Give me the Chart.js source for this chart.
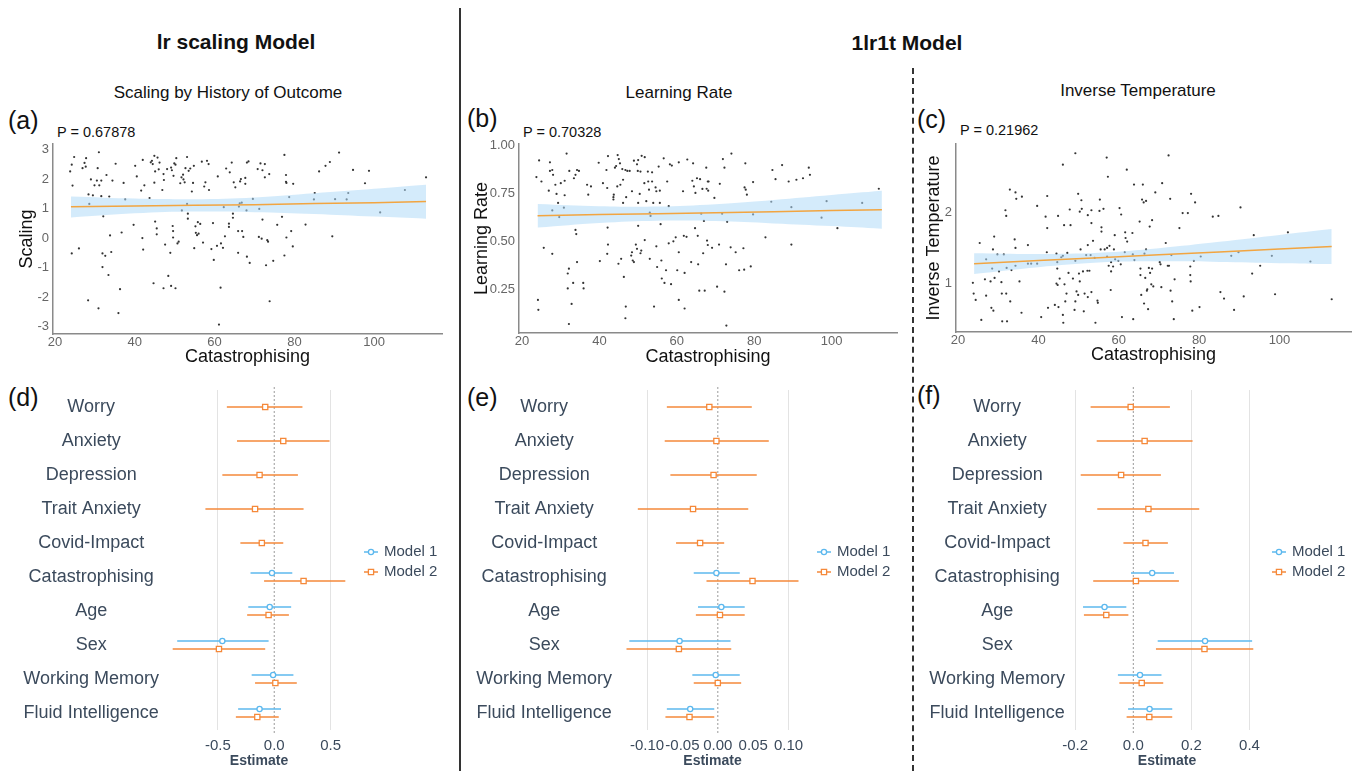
<!DOCTYPE html>
<html>
<head>
<meta charset="utf-8">
<script src="https://cdn.jsdelivr.net/npm/chart.js@4.4.1/dist/chart.umd.min.js"></script>
<style>
  body { margin: 0; background: #fff; font-family: "Liberation Sans", Arial, sans-serif; }
  #page { position: relative; width: 1357px; height: 771px; overflow: hidden; }
  canvas { position: absolute; }
  .t { position: absolute; white-space: nowrap; color: #111; line-height: 1; }
  .c { transform: translate(-50%, -50%); }
  .l { transform: translateY(-50%); }
</style>
</head>
<body>
<div id="page">
  <div style="position:absolute;left:459px;top:8px;width:2px;height:763px;background:#333"></div>
  <div style="position:absolute;left:912px;top:68px;height:703px;border-left:2px dashed #333"></div>

  <div class="t c" style="left:236px;top:41px;font-size:21px;font-weight:bold">lr scaling Model</div>
  <div class="t c" style="left:907px;top:42px;font-size:21px;font-weight:bold">1lr1t Model</div>

  <div class="t c" style="left:228px;top:92px;font-size:17px">Scaling by History of Outcome</div>
  <div class="t c" style="left:679px;top:92px;font-size:17px">Learning Rate</div>
  <div class="t c" style="left:1138px;top:90px;font-size:17px">Inverse Temperature</div>

  <div class="t l" style="left:8px;top:120px;font-size:25px">(a)</div>
  <div class="t l" style="left:467px;top:118px;font-size:25px">(b)</div>
  <div class="t l" style="left:917px;top:119px;font-size:25px">(c)</div>
  <div class="t l" style="left:8px;top:397px;font-size:25px">(d)</div>
  <div class="t l" style="left:467px;top:397px;font-size:25px">(e)</div>
  <div class="t l" style="left:917px;top:395px;font-size:25px">(f)</div>

  <div class="t l" style="left:57px;top:132px;font-size:14.5px">P = 0.67878</div>
  <div class="t l" style="left:523px;top:132px;font-size:14.5px">P = 0.70328</div>
  <div class="t l" style="left:960px;top:130px;font-size:14.5px">P = 0.21962</div>

  <canvas id="ca" width="452" height="235" style="left:0;top:140px"></canvas>
  <canvas id="cb" width="443" height="235" style="left:462px;top:140px"></canvas>
  <canvas id="cc" width="441" height="235" style="left:916px;top:140px"></canvas>
  <canvas id="cd" width="455" height="388" style="left:0;top:383px"></canvas>
  <canvas id="ce" width="443" height="388" style="left:462px;top:383px"></canvas>
  <canvas id="cf" width="441" height="388" style="left:916px;top:383px"></canvas>
</div>

<script>
// ---- data : scatter panels (catastrophising, parameter) ----
const scalingPoints = [
  [23.8,2.27],[24.2,2.50],[24.4,1.79],[24.8,2.76],[24.2,-0.51],[26.0,-0.34],[26.9,2.38],[27.4,2.56],
  [27.8,2.72],[27.7,2.43],[28.4,1.49],[28.6,1.17],[28.3,-2.10],[29.0,2.00],[29.5,1.46],[29.9,1.80],
  [30.5,1.96],[30.7,2.38],[31.0,2.92],[31.1,1.80],[31.6,1.96],[31.6,1.43],[31.9,-0.51],[32.1,0.75],
  [31.9,-0.97],[30.9,-2.37],[32.6,-0.59],[32.9,2.15],[33.4,-1.24],[33.6,1.42],[33.8,0.10],[34.1,-0.46],
  [34.4,1.96],[35.2,2.53],[36.3,-1.72],[35.9,-2.53],[36.7,0.20],[37.2,1.88],[37.6,1.32],[39.7,0.46],
  [40.1,2.46],[40.5,2.10],[41.6,1.62],[42.0,2.66],[41.9,0.01],[42.1,-0.38],[42.4,1.80],[43.7,1.37],
  [44.0,2.58],[44.3,2.63],[44.5,2.52],[44.9,2.80],[45.1,2.27],[44.9,1.89],[45.1,0.57],[45.5,0.34],
  [45.5,0.14],[45.7,2.74],[46.0,2.34],[46.2,2.57],[46.9,1.64],[47.2,2.18],[47.3,1.98],[44.7,-1.52],
  [47.2,-1.69],[47.6,-0.21],[48.1,2.35],[48.4,-1.27],[48.9,-0.49],[49.1,2.40],[49.3,2.31],[49.5,0.42],
  [49.6,0.25],[49.6,0.03],[49.9,2.54],[50.2,2.50],[49.7,2.12],[49.1,-1.61],[50.2,-1.69],[50.4,2.72],
  [50.7,-0.17],[51.0,-0.11],[51.4,1.87],[51.7,2.07],[51.8,0.95],[52.1,2.16],[52.2,2.00],[52.5,1.90],
  [52.7,2.38],[53.1,2.76],[53.1,1.17],[53.3,0.84],[53.3,0.67],[53.5,2.29],[53.9,2.37],[54.3,1.59],
  [54.6,1.88],[54.8,2.46],[54.9,-0.33],[55.2,0.41],[55.3,0.19],[55.6,0.11],[55.8,0.55],[56.0,0.16],
  [56.4,0.49],[56.8,2.60],[57.1,-0.14],[57.4,1.76],[57.7,1.90],[58.1,2.63],[58.5,2.52],[58.6,1.64],
  [59.2,-0.36],[59.6,0.52],[59.8,-0.73],[60.6,-0.25],[60.8,2.10],[61.1,-2.92],[61.5,-1.67],[61.6,-0.17],
  [62.1,-0.32],[62.3,1.06],[62.6,0.07],[62.9,2.37],[63.6,0.50],[63.6,0.39],[63.8,2.24],[64.3,2.57],
  [64.6,0.70],[64.6,0.84],[64.8,1.90],[65.2,1.73],[65.9,0.25],[65.9,-0.49],[66.1,1.08],[66.3,1.19],
  [66.4,1.93],[66.6,2.01],[66.8,1.21],[66.9,0.25],[67.2,0.05],[67.7,2.05],[67.7,1.85],[68.0,0.95],
  [68.1,2.57],[68.5,2.61],[68.1,-0.62],[68.8,-0.83],[69.6,1.34],[70.8,2.35],[71.2,1.00],[71.1,0.05],
  [71.5,2.54],[72.0,2.31],[72.0,0.64],[71.8,-0.01],[72.6,2.52],[72.6,2.07],[72.9,-0.91],[73.2,-0.06],
  [73.4,-0.11],[73.7,2.18],[73.8,-2.13],[74.7,-0.76],[75.7,0.46],[76.9,0.73],[77.5,2.83],[77.5,-0.58],
  [77.9,2.15],[77.9,1.92],[78.0,1.88],[78.0,0.03],[78.7,1.40],[79.2,0.25],[79.7,1.85],[79.6,-0.27],
  [82.8,0.47],[84.9,1.32],[85.1,1.54],[86.2,2.27],[87.8,2.46],[88.9,2.59],[89.5,0.07],[90.2,1.33],
  [91.2,2.91],[93.1,1.32],[93.5,1.54],[94.7,2.32],[97.7,1.87],[98.7,2.29],[101.5,0.88],[107.7,1.64],
  [113.0,2.07]
];
const learningPoints = [
  [23.7,0.837],[24.4,0.924],[25.0,0.814],[24.1,0.195],[24.2,0.143],[25.6,0.467],[26.9,0.766],[27.2,0.914],
  [27.2,0.869],[27.8,0.874],[28.0,0.849],[27.8,0.663],[27.8,0.436],[28.6,0.797],[28.9,0.749],[29.3,0.702],
  [29.6,0.628],[30.0,0.805],[30.8,0.677],[31.0,0.742],[31.0,0.818],[31.5,0.960],[31.8,0.333],[31.8,0.255],
  [32.1,0.358],[32.1,0.069],[32.2,0.869],[32.8,0.174],[33.2,0.284],[33.4,0.831],[33.8,0.849],[33.8,0.561],
  [34.0,0.539],[34.2,0.874],[34.7,0.869],[34.2,0.393],[35.8,0.284],[35.9,0.255],[36.8,0.797],[37.1,0.745],
  [37.8,0.788],[39.8,0.912],[40.1,0.398],[40.9,0.805],[41.8,0.874],[42.2,0.947],[42.0,0.780],[42.1,0.573],
  [42.2,0.484],[42.0,0.436],[43.6,0.732],[43.6,0.720],[43.7,0.745],[44.0,0.886],[44.3,0.895],[44.7,0.952],
  [44.6,0.788],[45.0,0.931],[44.9,0.384],[45.3,0.909],[45.4,0.797],[45.6,0.410],[45.9,0.879],[46.1,0.823],
  [46.1,0.702],[46.3,0.315],[46.7,0.874],[46.8,0.160],[46.7,0.099],[46.9,0.732],[47.2,0.869],[47.8,0.869],
  [48.2,0.427],[48.4,0.444],[48.4,0.763],[48.6,0.401],[48.9,0.393],[48.9,0.923],[49.4,0.484],[49.7,0.462],
  [49.7,0.904],[49.9,0.869],[50.0,0.926],[50.0,0.702],[50.0,0.582],[50.4,0.749],[50.6,0.866],[50.6,0.439],
  [50.9,0.948],[50.8,0.453],[51.7,0.941],[51.7,0.508],[51.6,0.805],[52.1,0.711],[52.5,0.866],[52.6,0.814],
  [52.8,0.771],[53.0,0.651],[53.2,0.634],[53.0,0.410],[53.6,0.862],[53.6,0.814],[53.9,0.702],[54.1,0.160],
  [54.5,0.783],[54.7,0.763],[54.7,0.475],[54.9,0.367],[55.3,0.892],[55.6,0.766],[55.6,0.702],[55.8,0.591],
  [56.0,0.401],[56.1,0.307],[56.6,0.935],[56.8,0.284],[57.2,0.350],[57.5,0.814],[57.9,0.685],[57.9,0.491],
  [58.2,0.904],[58.5,0.277],[58.7,0.897],[59.1,0.501],[59.7,0.522],[60.1,0.350],[60.5,0.914],[60.5,0.444],
  [60.5,0.195],[61.6,0.763],[61.8,0.530],[62.0,0.336],[62.0,0.150],[62.5,0.525],[62.7,0.929],[63.7,0.393],
  [64.0,0.818],[64.2,0.909],[64.4,0.788],[64.7,0.570],[64.8,0.754],[65.2,0.831],[65.4,0.530],[65.5,0.381],
  [65.8,0.243],[66.0,0.826],[66.3,0.646],[66.6,0.775],[66.8,0.439],[67.0,0.608],[67.2,0.243],[67.6,0.886],
  [67.7,0.776],[67.8,0.505],[68.0,0.482],[68.1,0.766],[68.0,0.814],[68.2,0.814],[69.1,0.467],[69.7,0.728],
  [70.4,0.264],[70.9,0.484],[71.1,0.802],[71.7,0.646],[71.9,0.931],[72.3,0.238],[72.3,0.886],[72.7,0.381],
  [72.8,0.061],[73.0,0.603],[73.9,0.470],[74.1,0.960],[75.2,0.444],[76.1,0.350],[77.2,0.465],[77.4,0.353],
  [77.5,0.783],[77.7,0.909],[77.8,0.771],[78.1,0.745],[79.1,0.370],[79.7,0.642],[79.7,0.811],[82.9,0.522],
  [84.4,0.708],[84.7,0.874],[85.5,0.826],[87.2,0.900],[88.9,0.814],[89.6,0.484],[89.6,0.680],[90.9,0.823],
  [92.6,0.831],[94.1,0.886],[94.4,0.849],[97.4,0.625],[98.7,0.711],[101.5,0.570],[107.9,0.702],[112.2,0.776]
];
const temperaturePoints = [
  [23.7,1.01],[23.9,0.86],[24.4,0.77],[25.4,1.57],[25.8,0.49],[26.7,1.06],[27.0,1.34],[27.0,0.83],
  [28.1,1.03],[28.5,1.21],[28.3,0.66],[28.7,1.48],[28.8,0.62],[29.0,1.66],[29.1,1.08],[29.8,1.41],
  [30.2,1.17],[30.8,1.02],[30.9,0.86],[31.0,0.47],[31.4,1.41],[31.8,2.03],[32.0,1.95],[32.0,0.86],
  [32.2,0.47],[32.1,1.22],[32.9,2.32],[33.0,0.75],[33.3,1.19],[34.1,1.62],[34.3,1.50],[34.3,1.25],
  [34.3,2.28],[34.5,2.19],[35.3,1.03],[35.8,0.59],[35.9,2.22],[37.4,1.54],[37.4,1.28],[38.2,1.28],
  [39.7,1.28],[39.7,2.09],[40.7,0.53],[41.8,1.94],[42.1,1.44],[42.2,2.23],[42.2,1.78],[42.4,0.66],
  [44.1,0.70],[44.5,1.42],[44.5,1.00],[44.7,1.30],[44.7,1.21],[44.8,0.98],[44.9,1.95],[45.0,0.67],
  [45.3,1.07],[45.7,1.37],[46.1,2.67],[46.1,1.39],[46.1,0.56],[46.2,0.45],[46.4,1.82],[46.5,0.99],
  [46.7,0.75],[47.0,0.86],[47.2,1.43],[47.5,1.15],[47.8,2.04],[48.0,1.82],[48.6,1.07],[49.0,0.63],
  [49.2,2.83],[49.2,1.32],[49.2,0.75],[49.5,0.89],[49.9,2.26],[49.9,0.84],[50.1,1.14],[50.3,2.01],
  [50.3,1.03],[50.5,1.48],[50.7,2.17],[50.8,2.05],[51.1,1.17],[51.3,0.61],[51.5,0.86],[51.9,1.40],
  [52.2,1.18],[52.3,1.96],[52.3,1.54],[52.3,0.81],[52.7,1.18],[53.0,1.40],[53.2,1.85],[53.2,2.03],
  [53.2,0.88],[53.6,1.60],[54.0,1.36],[54.2,0.45],[54.7,0.76],[54.8,0.73],[55.2,2.02],[55.3,2.18],
  [55.5,1.48],[55.7,1.79],[55.7,1.73],[56.2,2.05],[56.5,1.48],[57.0,2.77],[57.1,1.50],[57.1,1.38],
  [57.3,2.50],[57.5,1.25],[57.7,1.53],[58.0,0.91],[58.1,1.17],[58.1,1.30],[58.6,1.24],[58.8,1.48],
  [59.0,1.68],[59.1,1.34],[59.9,1.32],[60.2,2.06],[60.5,1.27],[60.6,1.97],[60.8,0.53],[61.5,1.44],
  [61.6,1.72],[61.7,1.64],[62.0,2.60],[62.1,1.59],[63.4,1.71],[63.5,1.41],[63.6,0.50],[63.8,2.39],
  [63.9,1.33],[65.2,1.87],[65.4,1.21],[65.4,1.12],[65.6,0.84],[65.8,2.18],[66.0,2.39],[66.2,2.14],
  [66.3,0.72],[66.4,1.42],[66.6,1.08],[66.8,2.16],[66.8,1.48],[67.0,0.90],[67.1,0.92],[67.3,0.64],
  [67.5,1.22],[67.7,1.80],[67.8,1.15],[68.1,0.99],[68.3,1.89],[68.3,1.21],[68.6,0.96],[69.1,2.28],
  [70.2,1.30],[70.4,1.27],[70.6,0.95],[70.8,2.41],[71.7,1.57],[72.2,1.25],[72.4,2.80],[72.5,1.25],
  [72.8,2.19],[72.9,0.90],[73.1,1.40],[73.3,0.75],[73.7,0.50],[73.9,1.06],[75.1,1.78],[75.9,1.99],
  [77.2,1.99],[77.8,1.24],[77.8,1.12],[77.9,1.03],[78.0,2.26],[78.3,0.62],[78.7,1.32],[79.0,2.14],
  [80.1,0.67],[80.4,1.38],[83.4,1.94],[84.8,1.95],[85.3,0.88],[86.2,0.79],[88.0,1.39],[88.7,0.63],
  [89.8,1.44],[90.3,2.07],[91.1,0.82],[93.2,1.14],[93.6,1.68],[95.2,1.25],[98.1,1.39],[98.9,0.85],
  [102.1,1.72],[107.7,1.31],[113.0,0.78]
];

// regression fit and confidence band, read at these catastrophising values
const bandX = [24, 40, 55, 70, 85, 100, 113];
const scalingFit   = [1.07, 1.10, 1.12, 1.14, 1.18, 1.21, 1.25];
const scalingUpper = [1.42, 1.35, 1.33, 1.39, 1.53, 1.68, 1.82];
const scalingLower = [0.71, 0.85, 0.91, 0.89, 0.83, 0.74, 0.67];
const learningFit   = [0.635, 0.641, 0.646, 0.651, 0.656, 0.662, 0.666];
const learningUpper = [0.697, 0.685, 0.683, 0.695, 0.717, 0.743, 0.765];
const learningLower = [0.573, 0.597, 0.609, 0.607, 0.595, 0.581, 0.567];
const temperatureFit   = [1.28, 1.323, 1.364, 1.404, 1.445, 1.485, 1.52];
const temperatureUpper = [1.425, 1.415, 1.432, 1.496, 1.586, 1.683, 1.765];
const temperatureLower = [1.135, 1.231, 1.296, 1.312, 1.304, 1.287, 1.275];

const catTicks = [20, 40, 60, 80, 100];
const scalingTicks = [-3, -2, -1, 0, 1, 2, 3];
const learningTicks = [0.25, 0.50, 0.75, 1.00];
const temperatureTicks = [1, 2];

// ---- data : forest panels ----
const predictors = ['Worry', 'Anxiety', 'Depression', 'Trait Anxiety', 'Covid-Impact',
  'Catastrophising', 'Age', 'Sex', 'Working Memory', 'Fluid Intelligence'];

const scalingM1Est = [null, null, null, null, null, -0.02, -0.04, -0.46, -0.01, -0.13];
const scalingM1Lo  = [null, null, null, null, null, -0.21, -0.23, -0.86, -0.20, -0.32];
const scalingM1Hi  = [null, null, null, null, null,  0.16,  0.15, -0.05,  0.17,  0.06];
const scalingM2Est = [-0.08,  0.08, -0.13, -0.17, -0.11,  0.26, -0.05, -0.49,  0.01, -0.15];
const scalingM2Lo  = [-0.42, -0.33, -0.46, -0.61, -0.30, -0.09, -0.24, -0.90, -0.17, -0.34];
const scalingM2Hi  = [ 0.25,  0.49,  0.21,  0.26,  0.08,  0.63,  0.13, -0.08,  0.20,  0.04];

const learningM1Est = [null, null, null, null, null, -0.002,  0.005, -0.054, -0.003, -0.039];
const learningM1Lo  = [null, null, null, null, null, -0.034, -0.028, -0.125, -0.036, -0.072];
const learningM1Hi  = [null, null, null, null, null,  0.031,  0.038,  0.018,  0.031, -0.005];
const learningM2Est = [-0.012, -0.002, -0.006, -0.035, -0.025,  0.049,  0.003, -0.055,  0.000, -0.040];
const learningM2Lo  = [-0.072, -0.075, -0.067, -0.113, -0.059, -0.016, -0.031, -0.129, -0.034, -0.074];
const learningM2Hi  = [ 0.048,  0.072,  0.055,  0.043,  0.009,  0.114,  0.038,  0.019,  0.033, -0.005];

const tempM1Est = [null, null, null, null, null,  0.065, -0.099, 0.247,  0.023,  0.056];
const tempM1Lo  = [null, null, null, null, null, -0.008, -0.173, 0.084, -0.053, -0.018];
const tempM1Hi  = [null, null, null, null, null,  0.140, -0.024, 0.409,  0.097,  0.134];
const tempM2Est = [-0.009,  0.039, -0.042,  0.052,  0.042,  0.009, -0.093, 0.245,  0.029,  0.055];
const tempM2Lo  = [-0.147, -0.126, -0.181, -0.124, -0.034, -0.138, -0.170, 0.078, -0.048, -0.023];
const tempM2Hi  = [ 0.126,  0.204,  0.095,  0.227,  0.119,  0.157, -0.017, 0.413,  0.103,  0.134];

const scalingEstTicks = [-0.5, 0, 0.5];
const learningEstTicks = [-0.10, -0.05, 0, 0.05, 0.10];
const tempEstTicks = [-0.2, 0, 0.2, 0.4];

// ---- styles ----
Chart.defaults.font.family = '"Liberation Sans", Arial, Helvetica, sans-serif';
const BLUE = '#5cb8ee';
const ORANGE = '#f5893a';
const SLATE = '#3b4a5c';

function xy(xs, ys) { return xs.map((x, i) => ({ x: x, y: ys[i] })); }

// fixed axis boxes so the plot areas land where the reference has them
function fixY(w) { return s => { s.width = w; s.paddingTop = 0; s.paddingBottom = 0; }; }
function fixX(h) { return s => { s.height = h; s.paddingLeft = 0; s.paddingRight = 0; }; }

function scatterPanel(id, p) {
  new Chart(document.getElementById(id), {
    type: 'scatter',
    data: {
      datasets: [
        { type: 'line', data: xy(bandX, p.upper), borderWidth: 0, pointRadius: 0, fill: false, tension: 0.4, order: 2 },
        { type: 'line', data: xy(bandX, p.lower), borderWidth: 0, pointRadius: 0, fill: '-1', tension: 0.4,
          backgroundColor: 'rgba(176, 218, 247, 0.55)', order: 2 },
        { type: 'line', data: xy(bandX, p.fit), borderColor: '#f2a541', borderWidth: 1.5, pointRadius: 0, order: 1 },
        { data: p.points.map(([x, y]) => ({ x, y })), pointRadius: 1.1, backgroundColor: '#333', borderWidth: 0, order: 3 }
      ]
    },
    options: {
      responsive: false, animation: false, devicePixelRatio: 1,
      layout: { padding: { top: p.top, right: p.right, left: 0, bottom: 0 } },
      plugins: { legend: { display: false }, tooltip: { enabled: false } },
      scales: {
        x: {
          type: 'linear', min: p.xMin, max: p.xMax,
          afterBuildTicks: s => { s.ticks = catTicks.map(v => ({ value: v })); },
          afterFit: fixX(p.xH),
          grid: { display: false, drawTicks: false },
          border: { color: '#8a8a8a', width: 1.5 },
          ticks: { color: '#666', font: { size: 13 }, padding: 1, autoSkip: false, maxRotation: 0 },
          title: { display: true, text: 'Catastrophising', color: '#111', font: { size: 18 }, padding: { top: 0, bottom: p.xTitlePad } }
        },
        y: {
          type: 'linear', min: p.yMin, max: p.yMax,
          afterBuildTicks: s => { s.ticks = p.yTicks.map(v => ({ value: v })); },
          afterFit: fixY(p.yW),
          grid: { display: false, drawTicks: false },
          border: { color: '#8a8a8a', width: 1.5 },
          ticks: { color: '#666', font: { size: 13 }, padding: 4, autoSkip: false,
                   callback: v => v.toFixed(p.dec) },
          title: { display: true, text: p.yTitle, color: '#111', font: { size: 18 }, padding: { top: p.yTitlePad, bottom: 0 } }
        }
      }
    }
  });
}

scatterPanel('ca', { points: scalingPoints, fit: scalingFit, upper: scalingUpper, lower: scalingLower,
  xMin: 19.5, xMax: 117, yMin: -3.24, yMax: 3.2, yTicks: scalingTicks, dec: 0, yTitle: 'Scaling',
  top: 3, right: 10, xH: 41, yW: 53, yTitlePad: 16, xTitlePad: 7 });
scatterPanel('cb', { points: learningPoints, fit: learningFit, upper: learningUpper, lower: learningLower,
  xMin: 19.2, xMax: 116.9, yMin: 0.022, yMax: 1.01, yTicks: learningTicks, dec: 2, yTitle: 'Learning Rate',
  top: 2, right: 8, xH: 42, yW: 57, yTitlePad: 9, xTitlePad: 7 });
scatterPanel('cc', { points: temperaturePoints, fit: temperatureFit, upper: temperatureUpper, lower: temperatureLower,
  xMin: 19.5, xMax: 117.8, yMin: 0.32, yMax: 2.96, yTicks: temperatureTicks, dec: 0, yTitle: 'Inverse Temperature',
  top: 2, right: 6, xH: 43, yW: 40, yTitlePad: 7, xTitlePad: 9 });

// ---- forest plots ----
function drawMarker(ctx, kind, x, y, color) {
  ctx.save();
  ctx.fillStyle = '#fff';
  ctx.strokeStyle = color;
  ctx.lineWidth = 1.3;
  ctx.beginPath();
  if (kind === 'circle') ctx.arc(x, y, 2.6, 0, Math.PI * 2);
  else ctx.rect(x - 2.6, y - 2.6, 5.2, 5.2);
  ctx.fill();
  ctx.stroke();
  ctx.restore();
}

const forestMarks = {
  id: 'forestMarks',
  beforeDatasetsDraw(chart) {
    const { ctx, chartArea, scales: { x } } = chart;
    const x0 = x.getPixelForValue(0);
    ctx.save();
    ctx.strokeStyle = '#9a9a9a';
    ctx.lineWidth = 1;
    ctx.setLineDash([2, 2]);
    ctx.beginPath();
    ctx.moveTo(x0, chartArea.top - 3);
    ctx.lineTo(x0, chartArea.bottom + 3);
    ctx.stroke();
    ctx.restore();
  },
  afterDatasetsDraw(chart) {
    const { ctx, chartArea, scales: { x } } = chart;
    chart.data.datasets.forEach((ds, di) => {
      const meta = chart.getDatasetMeta(di);
      meta.data.forEach((bar, i) => {
        const est = ds.estimates[i];
        if (est === null) return;
        drawMarker(ctx, ds.marker, x.getPixelForValue(est), bar.y, ds.borderColor);
      });
    });
    // legend
    const lx = chartArea.right + 17;
    const cy = (chartArea.top + chartArea.bottom) / 2 + 2;
    chart.data.datasets.forEach((ds, di) => {
      const ly = cy + (di === 0 ? -10 : 10);
      ctx.save();
      ctx.strokeStyle = ds.borderColor;
      ctx.lineWidth = 1.5;
      ctx.beginPath();
      ctx.moveTo(lx - 7, ly);
      ctx.lineTo(lx + 7, ly);
      ctx.stroke();
      ctx.restore();
      drawMarker(ctx, ds.marker, lx, ly, ds.borderColor);
      ctx.save();
      ctx.fillStyle = SLATE;
      ctx.font = '15px "Liberation Sans", Arial, sans-serif';
      ctx.textBaseline = 'middle';
      ctx.fillText(ds.label, lx + 13, ly);
      ctx.restore();
    });
  }
};

function ranges(lo, hi) { return lo.map((v, i) => v === null ? null : [v, hi[i]]); }

function forestPanel(id, p) {
  new Chart(document.getElementById(id), {
    type: 'bar',
    data: {
      labels: predictors,
      datasets: [
        { label: 'Model 1', data: ranges(p.m1Lo, p.m1Hi), estimates: p.m1Est, marker: 'circle',
          backgroundColor: BLUE, borderColor: BLUE, borderWidth: 0 },
        { label: 'Model 2', data: ranges(p.m2Lo, p.m2Hi), estimates: p.m2Est, marker: 'square',
          backgroundColor: ORANGE, borderColor: ORANGE, borderWidth: 0 }
      ]
    },
    options: {
      indexAxis: 'y',
      responsive: false, animation: false, devicePixelRatio: 1,
      layout: { padding: { top: 7, right: p.right, left: 0, bottom: 0 } },
      datasets: { bar: { skipNull: true, categoryPercentage: 0.47, barPercentage: 1, maxBarThickness: 1.6 } },
      plugins: { legend: { display: false }, tooltip: { enabled: false } },
      scales: {
        x: {
          type: 'linear', min: p.xMin, max: p.xMax,
          afterBuildTicks: s => { s.ticks = p.ticks.map(v => ({ value: v })); },
          afterFit: fixX(41),
          grid: {
            drawTicks: false, lineWidth: 1,
            color: c => (c.tick && p.gridAt.some(g => Math.abs(g - c.tick.value) < 1e-9)) ? '#e3e3e3' : 'rgba(0,0,0,0)'
          },
          border: { display: false },
          ticks: { color: SLATE, font: { size: 15 }, padding: 7, autoSkip: false, maxRotation: 0,
                   callback: v => v.toFixed(p.dec) },
          title: { display: true, text: 'Estimate', color: SLATE, font: { size: 14, weight: 'bold' }, padding: { top: 0, bottom: 1 } }
        },
        y: {
          afterFit: fixY(p.yW),
          grid: { display: false, drawTicks: false },
          border: { display: false },
          ticks: { color: SLATE, font: { size: 18 }, crossAlign: 'center', padding: p.labelPad, autoSkip: false }
        }
      }
    },
    plugins: [forestMarks]
  });
}

forestPanel('cd', { m1Est: scalingM1Est, m1Lo: scalingM1Lo, m1Hi: scalingM1Hi,
  m2Est: scalingM2Est, m2Lo: scalingM2Lo, m2Hi: scalingM2Hi,
  xMin: -0.977, xMax: 0.707, ticks: scalingEstTicks, gridAt: [-0.5, 0.5], dec: 1, yW: 164, right: 101, labelPad: 5 });
forestPanel('ce', { m1Est: learningM1Est, m1Lo: learningM1Lo, m1Hi: learningM1Hi,
  m2Est: learningM2Est, m2Lo: learningM2Lo, m2Hi: learningM2Hi,
  xMin: -0.141, xMax: 0.126, ticks: learningEstTicks, gridAt: [-0.10, 0.10], dec: 2, yW: 156, right: 98, labelPad: 6 });
forestPanel('cf', { m1Est: tempM1Est, m1Lo: tempM1Lo, m1Hi: tempM1Hi,
  m2Est: tempM2Est, m2Lo: tempM2Lo, m2Hi: tempM2Hi,
  xMin: -0.211, xMax: 0.443, ticks: tempEstTicks, gridAt: [-0.2, 0.2, 0.4], dec: 1, yW: 156, right: 95, labelPad: 7 });
</script>
</body>
</html>
